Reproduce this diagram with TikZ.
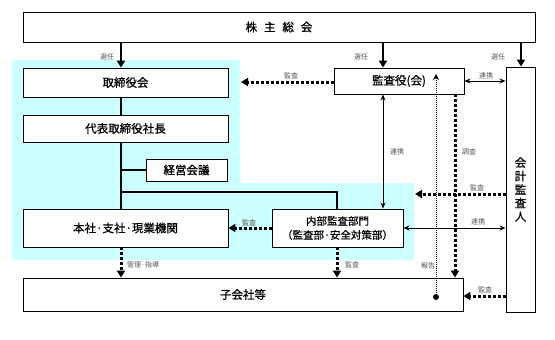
\documentclass[tikz,border=0pt]{standalone}
\usepackage{fontspec}
\setmainfont{Noto Sans CJK JP}
\newfontfamily\boxfont{Noto Sans CJK JP}[FakeBold=0.8]
\usetikzlibrary{arrows.meta}
\definecolor{cyanbg}{RGB}{204,255,255}
\definecolor{lblgray}{RGB}{85,85,85}
\begin{document}
\begin{tikzpicture}[x=1pt,y=-1pt,
  box/.style={draw=black,line width=0.9pt,fill=white,inner sep=0pt,align=center,font=\boxfont\fontsize{11.5}{13}\selectfont},
  lbl/.style={font=\fontsize{7}{8}\selectfont,text=lblgray,inner sep=0pt},
  thickline/.style={line width=2.6pt},
  thickarr/.style={line width=2.6pt,-{Triangle[length=7pt,width=8pt]}},
  dotarr/.style={line width=3pt,dash pattern=on 3pt off 2pt,-{Triangle[length=7pt,width=8pt]}},
  thinarr/.style={line width=1pt,{Stealth[length=6pt,width=5pt]}-{Stealth[length=6pt,width=5pt]}},
  reportline/.style={line width=1pt,dash pattern=on 1pt off 1pt,-{Stealth[length=6pt,width=6pt]}}
]
\useasboundingbox (0,0) rectangle (555,340);
\fill[white] (0,0) rectangle (555,340);
% cyan region
\fill[cyanbg,rounded corners=3pt] (12,60) -- (240,60) -- (240,183) -- (414,183) -- (414,260) -- (12,260) -- cycle;

% boxes
\node[box,minimum width=512pt,minimum height=30pt] (sh) at (279,27) {株\hspace{0.6em}主\hspace{0.6em}総\hspace{0.6em}会};
\node[box,minimum width=205pt,minimum height=29pt] (tor) at (125.5,82.5) {取締役会};
\node[box,minimum width=205pt,minimum height=27pt] (pres) at (125.5,128.5) {代表取締役社長};
\node[box,minimum width=81pt,minimum height=22pt] (keiei) at (186.5,170) {経営会議};
\node[box,minimum width=205pt,minimum height=38pt] (honsha) at (125.5,228) {本社·支社·現業機関};
\node[box,minimum width=131pt,minimum height=38pt,font=\boxfont\fontsize{10.5}{14}\selectfont] (naibu) at (337.5,228) {内部監査部門\\（監査部·安全対策部）};
\node[box,minimum width=440pt,minimum height=33pt] (kogaisha) at (243,294.5) {子会社等};
\node[box,minimum width=130pt,minimum height=26pt] (kansa) at (399,81) {監査役(会)};
\node[box,minimum width=29pt,minimum height=245pt,font=\boxfont\fontsize{11.5}{13.5}\selectfont] (kaikei) at (520.5,189.5) {会\\計\\監\\査\\人};

% x positions
\coordinate (xa) at (121,0);
\coordinate (xb) at (383,0);
\coordinate (xc) at (521,0);
\coordinate (xd) at (337,0);
\coordinate (xe) at (455,0);
\coordinate (cyA) at (241,82);
\coordinate (cyB) at (415,194);
\coordinate (yk) at (0,194);
\coordinate (yg) at (0,296);
\coordinate (rtop) at (436,74);

% election arrows
\draw[thickarr] (sh.south -| xa) -- (tor.north -| xa);
\draw[thickarr] (sh.south -| xb) -- (kansa.north -| xb);
\draw[thickarr] (sh.south -| xc) -- (kaikei.north -| xc);

% trunk
\draw[thickline] (tor.south -| xa) -- (pres.north -| xa);
\draw[thickline] (pres.south -| xa) -- (honsha.north -| xa);
\draw[thickline] (xa |- keiei.west) -- (keiei.west);
\draw[thickline] (121,192) -- (337,192) -- (naibu.north -| xd);

% audit arrows
\draw[dotarr] (kansa.west |- cyA) -- (cyA);
\draw[thinarr] (kansa.east -| kansa.east) -- (kansa.east -| kaikei.west);
\draw[thinarr] (kansa.south -| xb) -- (naibu.north -| xb);
\draw[dotarr] (kansa.south -| xe) -- (kogaisha.north -| xe);
\node[circle,fill=black,inner sep=0pt,minimum size=6pt] (dot) at (436,297) {};
\draw[reportline] (dot.center) -- (rtop);
\draw[dotarr] (kaikei.west |- yk) -- (cyB);
\draw[thinarr] (naibu.east) -- (naibu.east -| kaikei.west);
\draw[dotarr] (kaikei.west |- yg) -- (kogaisha.east |- yg);
\draw[dotarr] (naibu.west) -- (honsha.east);
\draw[dotarr] (naibu.south -| xd) -- (kogaisha.north -| xd);
\draw[dotarr] (honsha.south -| xa) -- (kogaisha.north -| xa);

% labels
\node[lbl] (l1) at (107,57) {選任};
\node[lbl] (l2) at (361,57) {選任};
\node[lbl] (l3) at (498,57) {選任};
\node[lbl] (l4) at (291,76) {監査};
\node[lbl] (l5) at (486,76) {連携};
\node[lbl] (l6) at (397,152) {連携};
\node[lbl] (l7) at (469,152) {調査};
\node[lbl] (l8) at (477,188) {監査};
\node[lbl] (l9) at (478,222) {連携};
\node[lbl] (l10) at (485,290) {監査};
\node[lbl] (l11) at (428,266) {報告};
\node[lbl] (l12) at (352,265) {監査};
\node[lbl,anchor=west] (l13) at (127,265) {管理·指導};
\node[lbl] (l14) at (249,223) {監査};
\end{tikzpicture}
\end{document}
